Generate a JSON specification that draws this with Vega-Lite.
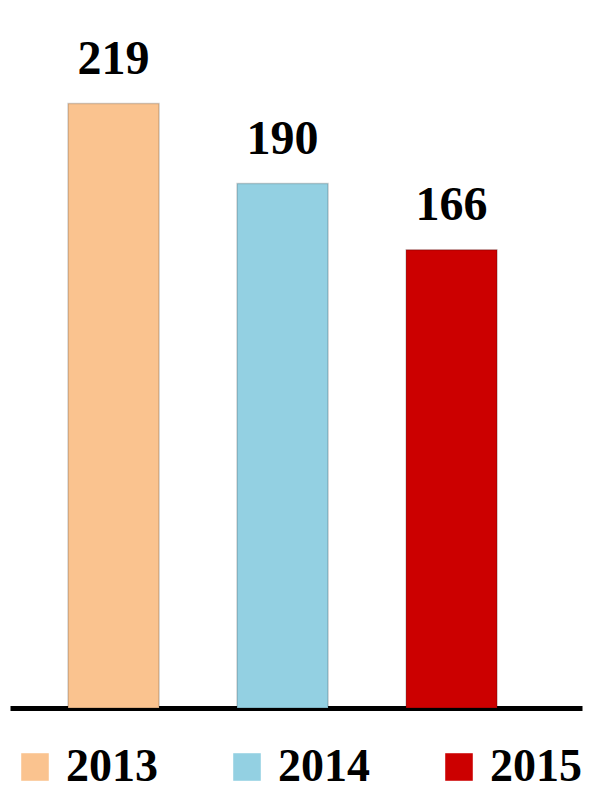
{
  "$schema": "https://vega.github.io/schema/vega-lite/v6.json",
  "width": 572,
  "height": 708,
  "autosize": "none",
  "padding": {"left": 10, "top": 0, "right": 7, "bottom": 88},
  "background": "white",
  "data": {"values": [
    {"year": "2013", "value": 219},
    {"year": "2014", "value": 190},
    {"year": "2015", "value": 166}
  ]},
  "encoding": {
    "x": {
      "field": "year", "type": "nominal", "sort": null,
      "scale": {"paddingInner": 0.4615, "paddingOuter": 0.423, "align": 0.406},
      "axis": {"title": null, "labels": false, "ticks": false, "domainColor": "#000000", "domainWidth": 5, "grid": false}
    },
    "y": {
      "field": "value", "type": "quantitative",
      "scale": {"domain": [0, 256.5], "zero": true, "nice": false},
      "axis": null
    }
  },
  "layer": [
    {
      "mark": {"type": "bar", "stroke": "#000000", "strokeOpacity": 0.18, "strokeWidth": 1.5},
      "encoding": {
        "color": {
          "field": "year", "type": "nominal",
          "scale": {"domain": ["2013", "2014", "2015"], "range": ["#FAC38F", "#93D0E2", "#CC0000"]},
          "legend": {
            "title": null,
            "orient": "none",
            "direction": "horizontal",
            "columns": 3,
            "legendX": 2,
            "legendY": 744,
            "padding": 0,
            "symbolType": "square",
            "symbolSize": 760,
            "symbolStrokeWidth": 0,
            "symbolOpacity": 1,
            "labelFont": "Liberation Serif",
            "labelFontWeight": "bold",
            "labelFontSize": 46,
            "labelColor": "#000000",
            "labelOffset": 8,
            "labelLimit": 300,
            "columnPadding": 66
          }
        }
      }
    },
    {
      "mark": {"type": "text", "font": "Liberation Serif", "fontWeight": "bold", "fontSize": 48, "color": "#000000", "baseline": "alphabetic", "dy": -30},
      "encoding": {"text": {"field": "value", "type": "quantitative"}}
    }
  ],
  "config": {"view": {"stroke": null}}
}
